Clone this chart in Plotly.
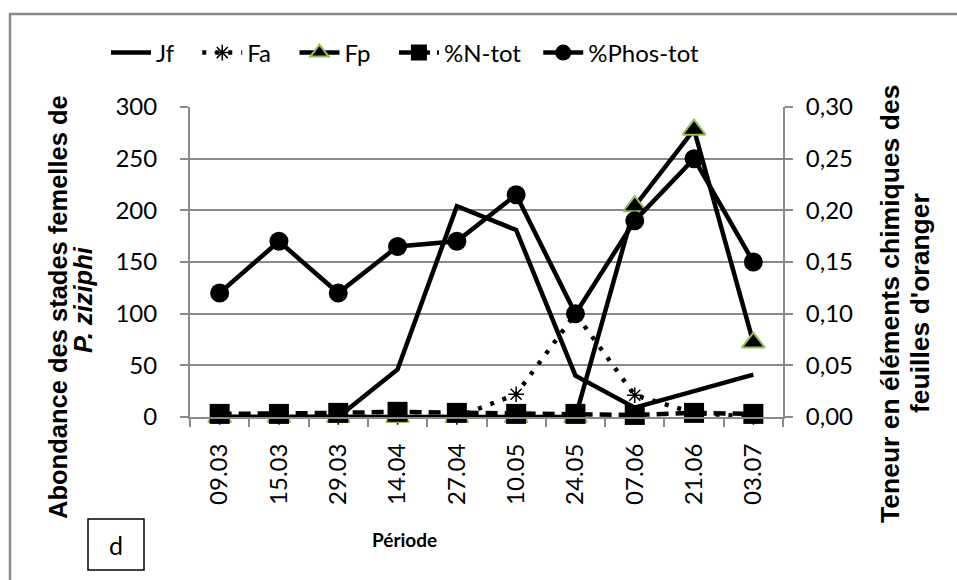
import plotly.graph_objects as go

# Sampling dates
periods = ["09.03", "15.03", "29.03", "14.04", "27.04", "10.05", "24.05", "07.06", "21.06", "03.07"]

# Abundance of female stages (left axis)
jf = [0, 0, 0, 46, 204, 181, 40, 9, 25, 41]
fa = [0, 0, 0, 0, 0, 22, 100, 21, 4, 0]
fp = [0, 0, 0, 0, 0, 0, 0, 204, 278, 72]

# Leaf chemical content (right axis)
n_tot = [0.003, 0.003, 0.004, 0.005, 0.004, 0.003, 0.003, 0.002, 0.004, 0.003]
phos_tot = [0.12, 0.17, 0.12, 0.165, 0.17, 0.215, 0.10, 0.19, 0.25, 0.15]

left_ticks = [0, 50, 100, 150, 200, 250, 300]
right_ticks = [0.0, 0.05, 0.10, 0.15, 0.20, 0.25, 0.30]

W, H = 957, 580
L, R, T, B = 190, 783, 107, 417  # plot area in pixels


def px(x):
    return (x - L) / (R - L)


def py(y):
    return (B - y) / (B - T)


NB = "\u00a0"
LINE_W = 4.5
fig = go.Figure()

fig.add_trace(go.Scatter(
    x=periods, y=jf, name="Jf" + NB * 3, mode="lines", cliponaxis=False,
    line=dict(color="black", width=LINE_W),
))
fig.add_trace(go.Scatter(
    x=periods, y=fa, name="Fa" + NB * 3, mode="lines+markers", cliponaxis=False,
    line=dict(color="black", width=LINE_W, dash="4px,9px"),
    marker=dict(symbol="asterisk-open", size=13, color="black",
                line=dict(color="black", width=1.5)),
))
fig.add_trace(go.Scatter(
    x=periods, y=fp, name="Fp" + NB * 3, mode="lines+markers", cliponaxis=False,
    line=dict(color="black", width=LINE_W),
    marker=dict(symbol="triangle-up", size=20, color="black",
                line=dict(color="#9BBB59", width=2)),
))
fig.add_trace(go.Scatter(
    x=periods, y=n_tot, name="%N-tot" + NB * 2, mode="lines+markers", yaxis="y2",
    cliponaxis=False,
    line=dict(color="black", width=LINE_W, dash="12px,7px"),
    marker=dict(symbol="square", size=20, color="black"),
))
fig.add_trace(go.Scatter(
    x=periods, y=phos_tot, name="%Phos-tot", mode="lines+markers", yaxis="y2",
    cliponaxis=False,
    line=dict(color="black", width=LINE_W),
    marker=dict(symbol="circle", size=19, color="black"),
))

GRID = "#8a8a8a"
TICK_FONT = dict(family="Lato", size=24, color="black")

fig.update_layout(
    width=W, height=H,
    margin=dict(l=L, r=W - R, t=T, b=H - B, pad=0),
    paper_bgcolor="white", plot_bgcolor="white",
    separators=",.",
    showlegend=True,
    legend=dict(
        orientation="h", x=px(106), y=py(53), xanchor="left", yanchor="middle",
        font=dict(family="Lato", size=24, color="black"),
        bgcolor="rgba(0,0,0,0)", itemwidth=40, itemsizing="trace",
    ),
    xaxis=dict(
        type="category", range=[-0.5, 9.5],
        showgrid=False, showline=True, linecolor=GRID, linewidth=2,
        ticks="outside", tickson="boundaries", ticklen=8, tickcolor=GRID, tickwidth=2,
        tickangle=-90, tickfont=TICK_FONT, ticklabelstandoff=15,
    ),
    yaxis=dict(
        range=[0, 300], tickvals=left_ticks,
        showgrid=True, gridcolor=GRID, gridwidth=2,
        showline=True, linecolor=GRID, linewidth=2,
        ticks="outside", ticklen=8, tickcolor=GRID, tickwidth=2,
        tickfont=TICK_FONT, ticklabelstandoff=18, zeroline=False,
    ),
    yaxis2=dict(
        range=[0, 0.30], tickvals=right_ticks, tickformat=".2f",
        overlaying="y", side="right", showgrid=False,
        showline=True, linecolor=GRID, linewidth=2,
        ticks="outside", ticklen=8, tickcolor=GRID, tickwidth=2,
        tickfont=TICK_FONT, ticklabelstandoff=8, zeroline=False,
    ),
)

# Axis titles (one annotation per line) and panel label
titles = [
    (58, 307, 25.5, "<b>Abondance des stades femelles de</b>"),
    (83, 300, 25.5, "<b><i>P. ziziphi</i></b>"),
    (890, 304, 26.5, "<b>Teneur en éléments chimiques des</b>"),
    (920, 303, 26.5, "<b>feuilles d'oranger</b>"),
]
for tx, ty, fs, txt in titles:
    fig.add_annotation(
        x=px(tx), y=py(ty), xref="paper", yref="paper", text=txt,
        textangle=-90, showarrow=False,
        font=dict(family="Liberation Sans", size=fs, color="black"),
        xanchor="center", yanchor="middle",
    )

fig.add_annotation(
    x=px(404), y=py(539), xref="paper", yref="paper",
    text="<b>Période</b>", showarrow=False,
    font=dict(family="Lato", size=19, color="black"),
    xanchor="center", yanchor="middle",
)
fig.add_annotation(
    x=px(116), y=py(545), xref="paper", yref="paper",
    text="d", showarrow=False,
    font=dict(family="Lato", size=25, color="black"),
    xanchor="center", yanchor="middle",
)

# Panel label box and chart frame
fig.add_shape(type="rect", xref="paper", yref="paper",
              x0=px(88), x1=px(144), y0=py(519), y1=py(570),
              line=dict(color="black", width=1.5))
fig.add_shape(type="rect", xref="paper", yref="paper",
              x0=px(10), x1=px(1000), y0=py(14), y1=py(620),
              line=dict(color="#8a8a8a", width=2.5))

fig.write_html("out.html")
